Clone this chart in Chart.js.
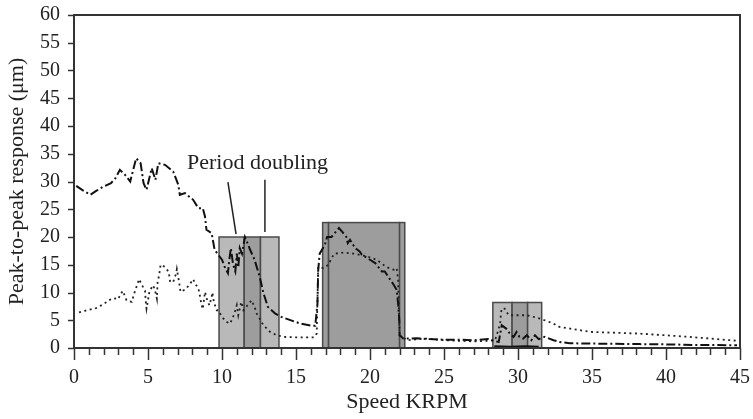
<!DOCTYPE html>
<html lang="en">
<head>
    <meta charset="UTF-8">
    <title>Peak-to-peak response vs speed</title>
    <script src="https://cdn.jsdelivr.net/npm/chart.js"></script>
    <style>
        html, body { margin: 0; padding: 0; background: #fff; }
        #wrap { width: 753px; height: 419px; }
    </style>
</head>
<body>
    <div id="wrap"><canvas id="responseChart" width="753" height="419"></canvas></div>

    <script>
        // speed (KRPM) / response (um) pairs for the two traces
        const dashSpeed = [0.15, 0.6, 1.1, 1.5, 2.0, 2.5, 2.8, 3.1, 3.45, 3.8, 4.2, 4.5, 4.7, 4.9, 5.25, 5.5, 5.7, 6.15, 6.7, 7.05, 7.15, 7.5, 8.05, 8.4, 8.7, 8.85, 8.95, 9.3, 9.5,
            10.0, 10.2, 10.4, 10.5, 10.6, 10.75, 10.9, 11.0, 11.1, 11.2, 11.35, 11.45, 11.55, 11.9, 12.2, 12.55, 12.8, 13.1, 13.6, 14.0, 15.3, 16.05, 16.3,
            16.45, 16.5, 16.6, 16.95, 17.1, 17.4, 17.9, 18.1, 18.4, 18.5, 18.65, 19.0, 19.3, 19.45, 20.0, 20.35, 20.8, 21.0, 21.25, 21.6, 21.8, 21.9, 21.98, 22.0, 22.25,
            23.15, 24, 25, 26, 27, 28, 28.5, 28.7, 28.8, 28.9, 29.2, 29.45, 29.7, 29.9, 30.1, 30.35, 30.6, 30.9, 31.15, 31.4, 31.8, 32.4, 32.8, 33.5, 35, 36.5, 38.2, 40, 42, 44.8];
        const dashResp = [29.2, 28.4, 27.6, 28.3, 29.1, 29.7, 30.6, 32.1, 31.2, 30.0, 34.2, 33.3, 29.7, 28.5, 32.4, 30.3, 33.3, 33.0, 31.8, 29.4, 27.6, 27.9, 26.7, 25.2, 25.2, 23.7, 21.3, 20.7, 17.7,
            15.9, 14.5, 13.5, 16.0, 18.0, 15.0, 13.8, 17.0, 14.5, 18.0, 17.0, 18.5, 20.0, 17.7, 15.9, 12.8, 9.9, 7.4, 6.2, 5.6, 4.4, 4.0, 4.0,
            8.0, 14.0, 17.0, 18.6, 20.0, 20.0, 21.6, 21.0, 20.0, 18.9, 19.5, 18.0, 17.4, 16.8, 15.9, 15.3, 13.8, 13.8, 12.8, 11.4, 10.5, 8.0, 5.0, 2.3, 1.7,
            1.75, 1.6, 1.5, 1.5, 1.4, 1.6, 1.2, 1.1, 2.6, 4.1, 3.5, 2.6, 2.0, 2.9, 2.0, 1.7, 2.3, 1.4, 2.3, 1.6, 2.0, 1.4, 1.1, 0.85, 0.8, 0.75, 0.7, 0.65, 0.55, 0.5];

        const dotSpeed = [0.34, 0.74, 1.2, 1.5, 2.0, 2.36, 2.65, 3.0, 3.1, 3.3, 3.55, 3.9, 4.1, 4.3, 4.4, 4.6, 4.8, 4.85, 4.9, 5.0, 5.1, 5.35, 5.5, 5.6, 5.65, 5.75, 5.85, 6.15, 6.4, 6.5, 6.7, 6.9, 6.95, 7.1, 7.2, 7.55, 7.85, 8.05, 8.2, 8.4, 8.5, 8.6, 8.7, 8.85, 9.0, 9.15, 9.3, 9.35, 9.45, 9.65,
            9.75, 10.0, 10.3, 10.55, 10.75, 10.9, 11.0, 11.1, 11.2, 11.3, 11.45, 12.0, 12.2, 12.35, 12.8, 13.25, 13.7, 14.15, 15.2, 16.2, 16.4,
            16.5, 16.85, 17.2, 17.4, 17.6, 18.2, 18.9, 19.8, 20.45, 21.1, 21.6, 21.8, 21.9, 21.95, 22.0, 22.5, 23.8, 25, 26, 27, 28.1, 28.45,
            28.7, 28.8, 28.85, 28.9, 29.1, 29.3, 29.4, 29.7, 30.6, 31.5, 32.4, 32.8, 34.9, 38.2, 41.6, 44.8];
        const dotResp = [6.4, 6.7, 7.0, 7.2, 7.9, 8.6, 9.0, 8.8, 9.5, 10.3, 8.6, 8.3, 10.1, 11.6, 12.4, 11.3, 10.3, 8.3, 7.1, 8.6, 10.3, 11.3, 10.1, 8.9, 11.9, 13.1, 15.0, 14.6, 13.7, 11.9, 11.9, 13.4, 14.2, 11.9, 10.1, 10.6, 11.6, 12.4, 11.5, 10.8, 9.5, 8.0, 7.0, 10.1, 8.6, 7.7, 9.2, 10.0, 8.3, 6.8,
            6.8, 5.6, 4.7, 4.4, 5.6, 6.8, 7.7, 5.9, 7.1, 8.3, 6.8, 8.6, 7.4, 6.2, 4.1, 2.9, 2.3, 2.0, 1.9, 1.9, 2.6,
            14.6, 14.4, 15.0, 16.2, 17.0, 17.2, 17.0, 16.5, 15.9, 14.6, 14.1, 14.4, 12.3, 6.8, 2.3, 1.4, 1.7, 1.4, 1.3, 1.2, 1.3, 1.4,
            3.5, 4.7, 6.2, 7.1, 7.1, 6.2, 5.9, 5.9, 5.9, 5.3, 4.4, 3.8, 2.9, 2.6, 2.0, 1.3];

        // short trace hugging the axis under the last band
        const floorSpeed = [28.4, 29.5, 30.5, 31.4];
        const floorResp = [0.25, 0.2, 0.25, 0.2];

        // shaded speed bands: [from, to, top, shade]
        const bandFrom = [9.8, 11.5, 12.6, 16.8, 17.2, 22.0, 28.3, 29.6, 30.65];
        const bandTo = [11.5, 12.6, 13.85, 17.2, 22.0, 22.35, 29.6, 30.65, 31.6];
        const bandTop = [20, 20, 20, 22.6, 22.6, 22.6, 8.2, 8.2, 8.2];
        const bandShade = ['light', 'dark', 'light', 'dark', 'dark', 'dark', 'light', 'dark', 'light'];

        const xTicks = [0, 5, 10, 15, 20, 25, 30, 35, 40, 45];
        const yTicks = [0, 5, 10, 15, 20, 25, 30, 35, 40, 45, 50, 55, 60];

        const shadeColor = { light: '#b9b9b9', dark: '#9d9d9d' };
        const FONT = '"Liberation Serif", "DejaVu Serif", serif';

        function pairs(xs, ys) {
            return xs.map((x, i) => ({ x: x, y: ys[i] }));
        }

        const bandsPlugin = {
            id: 'bands',
            beforeDatasetsDraw(chart) {
                const { ctx, scales: { x, y } } = chart;
                ctx.save();
                bandFrom.forEach((from, i) => {
                    const l = x.getPixelForValue(from);
                    const r = x.getPixelForValue(bandTo[i]);
                    const t = y.getPixelForValue(bandTop[i]);
                    const b = y.getPixelForValue(0);
                    ctx.fillStyle = shadeColor[bandShade[i]];
                    ctx.fillRect(l, t, r - l, b - t);
                    ctx.strokeStyle = '#4a4a4a';
                    ctx.lineWidth = 1.5;
                    ctx.strokeRect(l, t, r - l, b - t);
                });
                ctx.restore();
            }
        };

        // label and its two leader lines, in data units
        const note = { text: 'Period doubling', x: 12.4, y: 33.3 };
        const leaders = [[10.4, 29.9, 10.95, 20.5], [12.9, 30.3, 12.9, 20.9]];

        const framePlugin = {
            id: 'frame',
            afterDraw(chart) {
                const { ctx, chartArea: a, scales: { x, y } } = chart;
                ctx.save();
                ctx.strokeStyle = '#333';
                ctx.lineWidth = 1.5;
                // minor and major ticks on x
                for (let k = 0; k <= 45; k++) {
                    const px = Math.round(x.getPixelForValue(k)) + 0.5;
                    ctx.beginPath();
                    ctx.moveTo(px, a.bottom);
                    ctx.lineTo(px, a.bottom + (k % 5 === 0 ? 12 : 7));
                    ctx.stroke();
                }
                yTicks.forEach(v => {
                    const py = Math.round(y.getPixelForValue(v)) + 0.5;
                    ctx.beginPath();
                    ctx.moveTo(a.left - 6, py);
                    ctx.lineTo(a.left, py);
                    ctx.stroke();
                });
                ctx.lineWidth = 2;
                ctx.strokeRect(a.left, a.top, a.right - a.left, a.bottom - a.top);

                ctx.lineWidth = 1.5;
                ctx.strokeStyle = '#222';
                leaders.forEach(([x1, y1, x2, y2]) => {
                    ctx.beginPath();
                    ctx.moveTo(x.getPixelForValue(x1), y.getPixelForValue(y1));
                    ctx.lineTo(x.getPixelForValue(x2), y.getPixelForValue(y2));
                    ctx.stroke();
                });
                ctx.fillStyle = '#222';
                ctx.font = '22px ' + FONT;
                ctx.textAlign = 'center';
                ctx.textBaseline = 'middle';
                ctx.fillText(note.text, x.getPixelForValue(note.x), y.getPixelForValue(note.y));
                ctx.restore();
            }
        };

        const ctx = document.getElementById('responseChart').getContext('2d');
        new Chart(ctx, {
            type: 'line',
            data: {
                datasets: [{
                    label: 'dash-dot',
                    data: pairs(dashSpeed, dashResp),
                    borderColor: '#111',
                    borderWidth: 2,
                    borderDash: [9, 3, 2, 3],
                    pointRadius: 0,
                    tension: 0
                }, {
                    label: 'dotted',
                    data: pairs(dotSpeed, dotResp),
                    borderColor: '#222',
                    borderWidth: 1.8,
                    borderDash: [2, 3.5],
                    pointRadius: 0,
                    tension: 0
                }, {
                    label: 'floor',
                    data: pairs(floorSpeed, floorResp),
                    borderColor: '#111',
                    borderWidth: 2.5,
                    pointRadius: 0
                }]
            },
            options: {
                responsive: false,
                animation: false,
                layout: { padding: { left: 0, right: 13, top: 15, bottom: 0 } },
                plugins: { legend: { display: false }, tooltip: { enabled: false } },
                scales: {
                    x: {
                        type: 'linear',
                        min: 0,
                        max: 45,
                        afterBuildTicks: s => { s.ticks = xTicks.map(v => ({ value: v })); },
                        afterFit: s => { s.height = 71; s.paddingLeft = 0; s.paddingRight = 0; },
                        grid: { display: false, drawTicks: false },
                        border: { display: false },
                        ticks: { color: '#222', padding: 18, autoSkip: false, maxRotation: 0, font: { family: FONT, size: 20 } },
                        title: { display: true, text: 'Speed KRPM', color: '#222', padding: { top: 0 }, font: { family: FONT, size: 22 } }
                    },
                    y: {
                        min: 0,
                        max: 60,
                        afterBuildTicks: s => { s.ticks = yTicks.map(v => ({ value: v })); },
                        afterFit: s => { s.width = 74; s.paddingTop = 0; s.paddingBottom = 0; },
                        grid: { display: false, drawTicks: false },
                        border: { display: false },
                        ticks: { color: '#222', padding: 14, autoSkip: false, font: { family: FONT, size: 20 } },
                        title: { display: true, text: 'Peak-to-peak response (μm)', color: '#222', padding: { bottom: 0 }, font: { family: FONT, size: 22 } }
                    }
                }
            },
            plugins: [bandsPlugin, framePlugin]
        });
    </script>
</body>
</html>
